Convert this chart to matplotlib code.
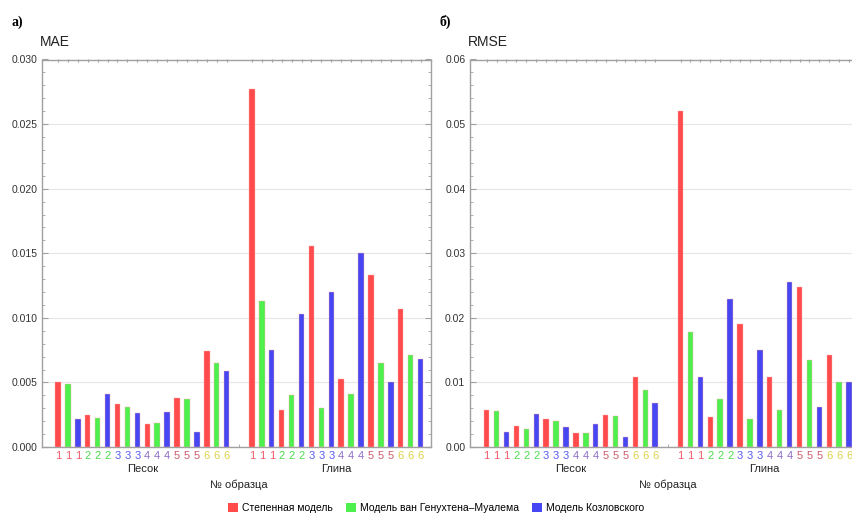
import numpy as np
import matplotlib
matplotlib.use('Agg')
import matplotlib.pyplot as plt
from matplotlib.ticker import MultipleLocator, FormatStrFormatter
from matplotlib.patches import Patch

plt.rcParams['font.family'] = ['Liberation Sans', 'DejaVu Sans']

# номера образцов (по 3 столбца на образец)
samples = ['1', '1', '1', '2', '2', '2', '3', '3', '3', '4', '4', '4', '5', '5', '5', '6', '6', '6']
groups = ['Песок', 'Глина']
models = ['Степенная модель', 'Модель ван Генухтена–Муалема', 'Модель Козловского']

# MAE
mae_sand = [0.0050, 0.0049, 0.0022, 0.0025, 0.00225, 0.0041, 0.00335, 0.0031, 0.0026,
            0.0018, 0.00185, 0.0027, 0.0038, 0.0037, 0.0012, 0.0074, 0.0065, 0.0059]
mae_clay = [0.0277, 0.0113, 0.0075, 0.0029, 0.0040, 0.0103, 0.0156, 0.0030, 0.0120,
            0.0053, 0.0041, 0.0150, 0.0133, 0.0065, 0.0050, 0.0107, 0.0071, 0.0068]
# RMSE
rmse_sand = [0.0057, 0.0056, 0.0023, 0.0032, 0.0028, 0.0051, 0.0044, 0.0041, 0.0031,
             0.0021, 0.0021, 0.0036, 0.0050, 0.0048, 0.0015, 0.0108, 0.0089, 0.0068]
rmse_clay = [0.0521, 0.0178, 0.0108, 0.0047, 0.0074, 0.0229, 0.0191, 0.0044, 0.0150,
             0.0108, 0.0058, 0.0255, 0.0247, 0.0135, 0.0062, 0.0142, 0.0100, 0.0100]

bar_colors = ['#ff4b4b', '#4ef04e', '#4646f2']
label_colors = {'1': '#f05a6a', '2': '#4fdc4f', '3': '#5a5af0', '4': '#8c6cc8',
                '5': '#cc5c6c', '6': '#dcd24a'}

gap = 2.55
pos_sand = np.arange(18)
pos_clay = np.arange(18) + 17 + gap
positions = np.concatenate([pos_sand, pos_clay])
mid = (17 + 17 + gap) / 2

fig = plt.figure(figsize=(8.52, 5.15), dpi=100)
ax1 = fig.add_axes([42 / 852, 1 - 447 / 515, 388.5 / 852, 387.5 / 515])
ax2 = fig.add_axes([469.5 / 852, 1 - 447 / 515, 389 / 852, 387.5 / 515])

panels = [(ax1, mae_sand + mae_clay, 0.030, 0.005, '%.3f', 'MAE', (-1.61, 37.55)),
          (ax2, rmse_sand + rmse_clay, 0.06, 0.01, '%.2f', 'RMSE', (-1.73, 37.5))]

for ax, vals, ymax, step, fmt, title, xl in panels:
    cols = [bar_colors[i % 3] for i in range(36)]
    ax.bar(positions, vals, width=0.55, color=cols, edgecolor='#ffb0b0', linewidth=0.3, zorder=3)
    ax.set_ylim(0, ymax)
    ax.set_xlim(*xl)
    ax.yaxis.set_major_locator(MultipleLocator(step))
    ax.yaxis.set_minor_locator(MultipleLocator(step / 5))
    ax.yaxis.set_major_formatter(FormatStrFormatter(fmt))
    ax.grid(axis='y', color='#e6e6e6', linewidth=0.8, zorder=0)
    ax.set_axisbelow(True)
    for s in ax.spines.values():
        s.set_color('#a0a0a0')
        s.set_linewidth(1.0)
    ax.tick_params(axis='y', which='both', direction='in', right=True, color='#a0a0a0',
                   labelsize=7.5, labelcolor='#333333', pad=3)
    ax.tick_params(axis='y', which='major', length=4)
    ax.tick_params(axis='y', which='minor', length=2)
    ax.set_xticks(positions, samples + samples)
    ax.set_xticks([mid], minor=True)
    ax.tick_params(axis='x', which='major', length=0, labelsize=8, pad=3)
    ax.tick_params(axis='x', which='minor', direction='in', length=2, color='#a0a0a0')
    for lab, s in zip(ax.get_xticklabels(), samples + samples):
        lab.set_color(label_colors[s])
    top = ax.secondary_xaxis('top')
    top.set_xticks(positions, [''] * 36)
    top.tick_params(direction='in', length=2, color='#a0a0a0')
    top.spines['top'].set_visible(False)
    ax.text(np.mean(pos_sand), -0.058, groups[0], transform=ax.get_xaxis_transform(),
            ha='center', va='center', fontsize=8, color='#222222')
    ax.text(np.mean(pos_clay), -0.058, groups[1], transform=ax.get_xaxis_transform(),
            ha='center', va='center', fontsize=8, color='#222222')
    ax.text(mid, -0.097, '№ образца', transform=ax.get_xaxis_transform(),
            ha='center', va='center', fontsize=8, color='#222222')
    ax.text(-0.005, 1.034, title, transform=ax.transAxes, ha='left', va='baseline',
            fontsize=10, color='#222222')

fig.text(11 / 852, 1 - 22 / 515, 'а)', fontsize=10, fontweight='bold', family='Liberation Serif',
         ha='left', va='center')
fig.text(439 / 852, 1 - 22 / 515, 'б)', fontsize=10, fontweight='bold', family='Liberation Serif',
         ha='left', va='center')

handles = [Patch(facecolor=c, edgecolor='none') for c in bar_colors]
fig.legend(handles, models, loc='center', bbox_to_anchor=(436 / 852, 1 - 508 / 515), ncol=3,
           frameon=False, fontsize=7.5, handlelength=1.0, handleheight=1.0,
           handletextpad=0.4, columnspacing=1.2)

fig.savefig('out.png', dpi=100)
